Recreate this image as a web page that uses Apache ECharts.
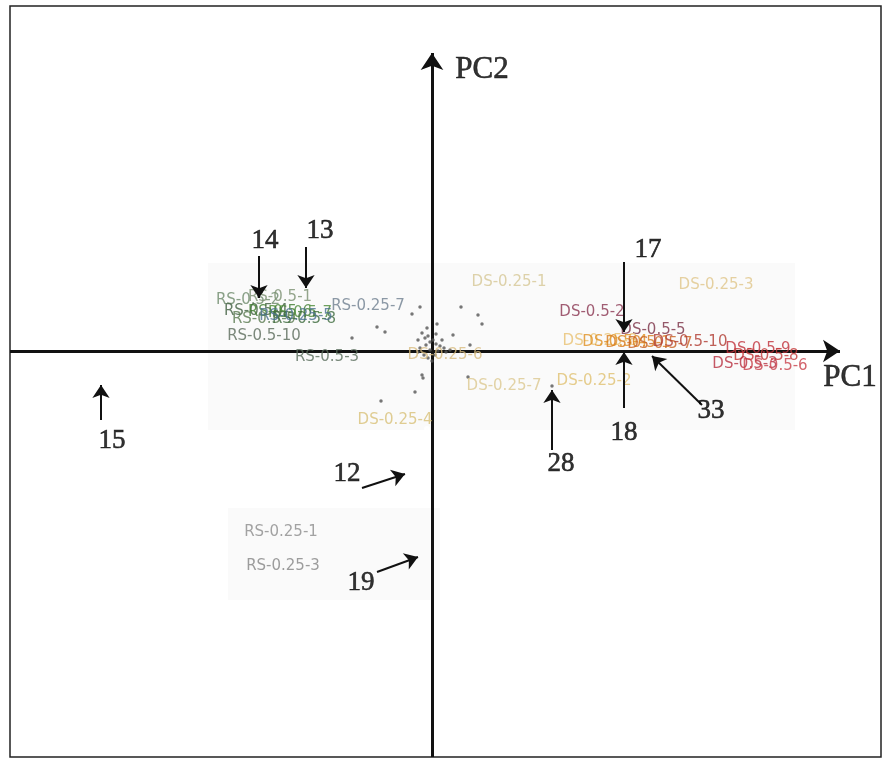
<!DOCTYPE html>
<html>
<head>
<meta charset="utf-8">
<script src="https://cdn.jsdelivr.net/npm/echarts@6/dist/echarts.min.js"></script>
<style>html,body{margin:0;padding:0;background:#fff;}#chart{width:886px;height:762px;}</style>
</head>
<body>
<div id="chart"></div>
<script>
// Score plot in arbitrary PC units (origin = PC1/PC2 crossing)
const dotX = [-12,-20,-55,-47,29,46,50,5,21,38,-10,-9,36,-17,-51,-80,120,-10,-7,-4,-2,1,4,8,12,-6,-12,-14,-8,-2,3,6,14,18,-4,0,-14,-5,4,10];
const dotY = [44,37,24,19,44,36,27,27,16,6,-24,-27,-26,-41,-50,13,-35,18,13,15,9,11,7,5,3,6,3,-1,-4,1,-4,0,-1,1,-7,-10,11,23,17,11];
const openX = [-5,-331];
const openY = [-78,-28];

const sampleNames = ["RS-0.5-2","RS-0.5-1","RS-0.5-4","RS-0.5-6","RS-0.5-7","RS-0.5-9","RS-0.5-8","RS-0.25-5","RS-0.5-10","RS-0.5-3","RS-0.25-7","RS-0.25-1","RS-0.25-3",
  "DS-0.25-1","DS-0.25-3","DS-0.5-2","DS-0.5-5","DS-0.25-8","DS-0.5-4","DS-0.5-1","DS-0.5-7","DS-0.5-10","DS-0.5-9","DS-0.5-8","DS-0.5-3","DS-0.5-6","DS-0.25-6","DS-0.25-2","DS-0.25-7","DS-0.25-4"];
const sampleX = [-184,-152,-176,-152,-132,-168,-128,-136,-168,-105,-64,-151,-149,
  77,284,160,221,168,183,206,228,258,326,334,313,343,13,162,72,-37];
const sampleY = [51,54,40,39,38,32,32,35,15,-6,45,-181,-215,
  69,66,39,21,10,9,8,7,9,2,-5,-13,-15,-4,-30,-35,-69];
const sampleColors = ["#6d8a6a","#7a9070","#3f5e3f","#3c7a2c","#4a8a36","#5a7a50","#3c6a3c","#4a7090","#5b6b5b","#5a6e5c","#6f8090","#8c8c8c","#858585",
  "#d6c795","#e0c68a","#8a3550","#7a3045","#e8c070","#e09020","#d87a1a","#c86020","#b03a30","#c0303a","#c43838","#b83040","#c8404a","#d8bc80","#e0c070","#dcc890","#d8c078"];

const noteText = ["14","13","17","15","12","19","28","18","33"];
const noteX = [-167,-112,216,-320,-85,-71,129,192,279];
const noteY = [110,120,101,-90,-123,-232,-113,-82,-60];
const arrowFrom = [[-173,95],[-126,104],[192,89],[-331,-69],[-70,-137],[-55,-221],[120,-99],[192,-57],[270,-54]];
const arrowTo   = [[-173,53],[-126,63],[192,19],[-331,-34],[-27,-123],[-14,-206],[120,-39],[192,-1],[220,-5]];

const axisNames = ["PC1","PC2"];
const axisNameX = [418,50];
const axisNameY = [-27,281];
const axisFrom = [[-422,0],[0,-406]];
const axisTo = [[408,0],[0,298]];

const chart = echarts.init(document.getElementById('chart'), null, {renderer:'canvas'});
const labelData = sampleNames.map((n,i)=>({
  name:n, value:[sampleX[i],sampleY[i]],
  label:{color:sampleColors[i]}
}));
const noteData = noteText.map((t,i)=>({name:t, value:[noteX[i],noteY[i]]}));
const axisNameData = axisNames.map((t,i)=>({name:t, value:[axisNameX[i],axisNameY[i]]}));
const hidden = {color:'rgba(0,0,0,0)'};

chart.setOption({
  animation:false,
  backgroundColor:'#ffffff',
  grid:{left:10,right:5,top:6,bottom:5,show:true,borderColor:'#222',borderWidth:1.5,backgroundColor:'transparent'},
  xAxis:{type:'value',min:-422,max:449,show:false},
  yAxis:{type:'value',min:-406,max:345,show:false},
  series:[
    {type:'scatter',data:[],silent:true,
     markArea:{silent:true,itemStyle:{color:'rgba(0,0,0,0.02)'},
       data:[[{coord:[-224,88]},{coord:[363,-79]}],[{coord:[-204,-157]},{coord:[8,-249]}]]}},
    {type:'lines',coordinateSystem:'cartesian2d',silent:true,z:3,
     symbol:['none','arrow'],symbolSize:17,
     lineStyle:{color:'#111',width:3,opacity:1},
     data:axisFrom.map((f,i)=>({coords:[f,axisTo[i]]}))},
    {type:'lines',coordinateSystem:'cartesian2d',silent:true,z:6,
     symbol:['none','arrow'],symbolSize:13,
     lineStyle:{color:'#111',width:2,opacity:1},
     data:arrowFrom.map((f,i)=>({coords:[f,arrowTo[i]]}))},
    {type:'scatter',z:4,symbolSize:3.5,itemStyle:{color:'#555'},
     data:dotX.map((x,i)=>[x,dotY[i]])},
    {type:'scatter',z:4,symbol:'emptyCircle',symbolSize:4,itemStyle:{color:'#fff',borderColor:'#666',borderWidth:1},
     data:openX.map((x,i)=>[x,openY[i]])},
    {type:'scatter',z:5,symbolSize:1,itemStyle:hidden,
     label:{show:true,position:'inside',formatter:'{b}',fontFamily:'DejaVu Sans',fontSize:15,textBorderWidth:0},
     labelLayout:{hideOverlap:false},
     data:labelData},
    {type:'scatter',z:7,symbolSize:1,itemStyle:hidden,
     label:{show:true,position:'inside',formatter:'{b}',fontFamily:'Liberation Serif',fontSize:27,color:'#000',textBorderColor:'#000',textBorderWidth:0.6},
     data:noteData},
    {type:'scatter',z:7,symbolSize:1,itemStyle:hidden,
     label:{show:true,position:'inside',formatter:'{b}',fontFamily:'Liberation Serif',fontSize:31,color:'#000',textBorderColor:'#000',textBorderWidth:0.6},
     data:axisNameData}
  ]
});
</script>
</body>
</html>
